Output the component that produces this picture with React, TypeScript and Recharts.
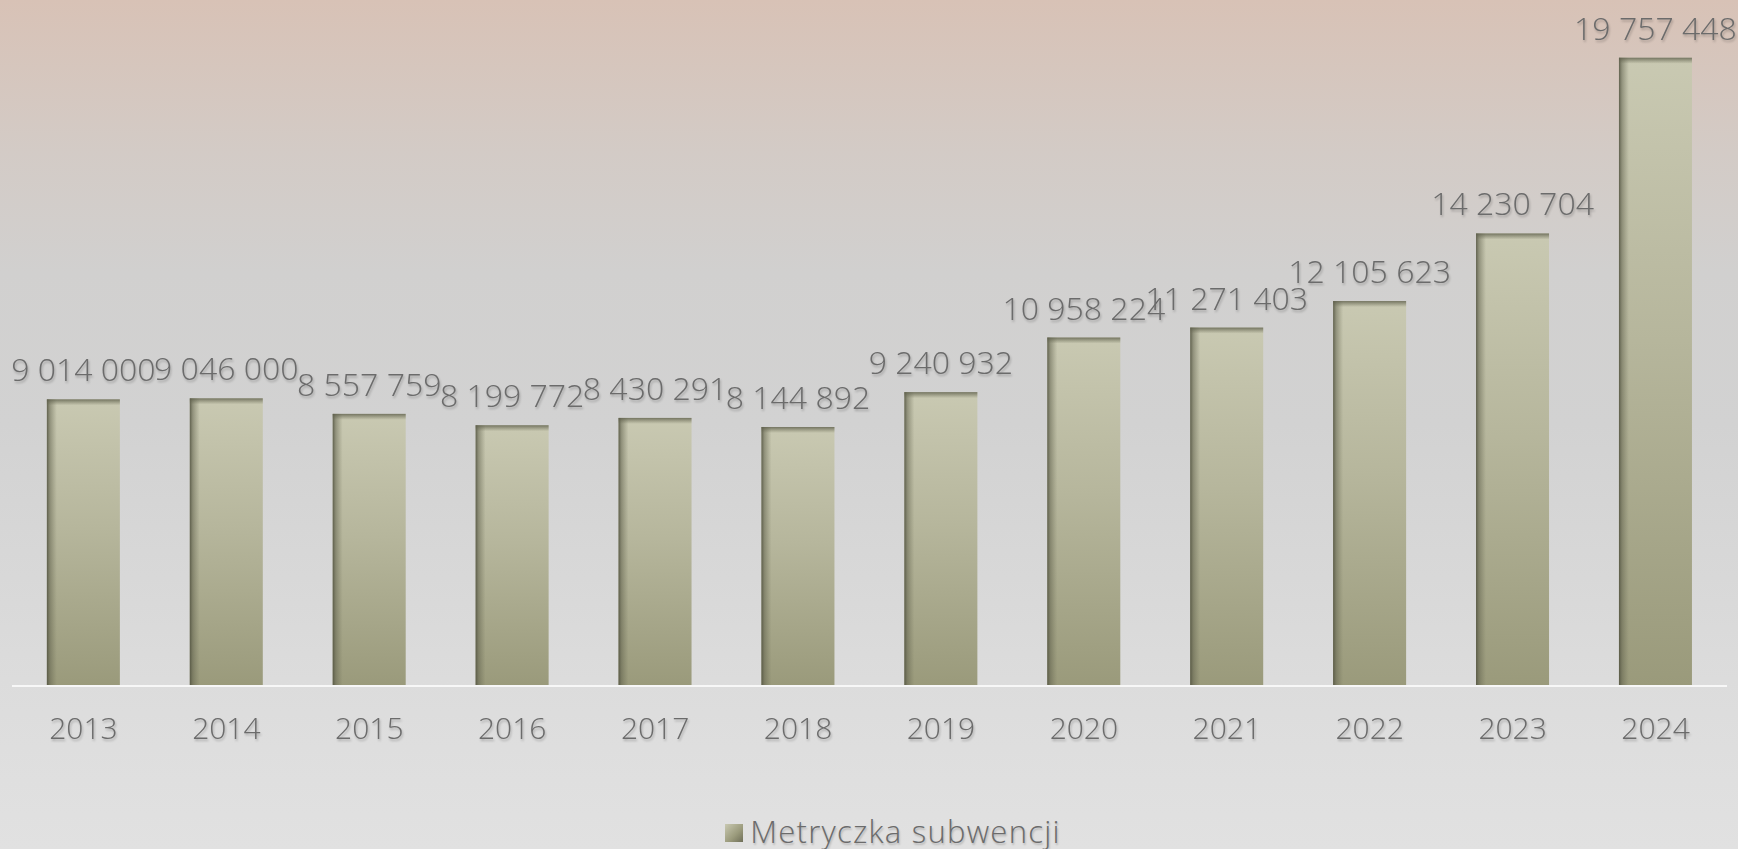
import { BarChart, Bar, XAxis, YAxis, LabelList, Legend } from 'recharts';

const years = ['2013', '2014', '2015', '2016', '2017', '2018', '2019', '2020', '2021', '2022', '2023', '2024'];
const subwencja = [9014000, 9046000, 8557759, 8199772, 8430291, 8144892, 9240932, 10958224, 11271403, 12105623, 14230704, 19757448];
const seriesName = 'Metryczka subwencji';

const data = years.map((year, i) => ({ year, value: subwencja[i] }));

const W = 1738;
const H = 849;
const FONT = '"Open Sans", "DejaVu Sans", sans-serif';
const TEXT = '#6b6b6b';
const WEIGHT = 300;
const SHADOW = 'drop-shadow(1px 2px 1px rgba(0,0,0,0.22))';

const fmt = (v: number) => String(v).replace(/\B(?=(\d{3})+(?!\d))/g, ' ');

// bar with a darker left edge and top edge, like the bevel in the original
const BevelBar = (props: any) => {
  const { x, y, width, height } = props;
  if (!height || height <= 0) return null;
  return (
    <g>
      <rect x={x} y={y} width={width} height={height} fill="url(#barFill)" />
      <rect x={x} y={y} width={Math.min(10, width)} height={height} fill="url(#leftShade)" />
      <rect x={x} y={y} width={width} height={Math.min(6, height)} fill="url(#topShade)" />
    </g>
  );
};

// plain text label so long numbers are not wrapped to the bar width
const ValueLabel = (props: any) => {
  const { x, y, width, value } = props;
  return (
    <text
      x={x + width / 2}
      y={y - 18}
      textAnchor="middle"
      fill={TEXT}
      fontSize={32}
      fontWeight={WEIGHT}
      fontFamily={FONT}
      style={{ filter: SHADOW }}
    >
      {fmt(Number(value))}
    </text>
  );
};

const LegendBox = () => (
  <div style={{ height: 103, display: 'flex', justifyContent: 'center', alignItems: 'flex-start', paddingTop: 68, paddingLeft: 48, boxSizing: 'border-box' }}>
    <div style={{ display: 'flex', alignItems: 'center', gap: 7 }}>
      <div
        style={{
          width: 18,
          height: 18,
          background: 'linear-gradient(135deg, #c9c9b2 0%, #9a9a7b 60%, #6e6e58 100%)',
          marginTop: 4,
        }}
      />
      <span style={{ fontFamily: FONT, fontSize: 31, fontWeight: WEIGHT, lineHeight: '34px', color: TEXT, letterSpacing: 1.25, textShadow: '1px 2px 2px rgba(0,0,0,0.2)' }}>
        {seriesName}
      </span>
    </div>
  </div>
);

export default function App() {
  return (
    <div
      style={{
        position: 'absolute',
        left: 0,
        top: 0,
        width: W,
        height: H,
        background: 'linear-gradient(180deg, #d8c2b6 0%, #d3cbc6 18%, #d1d0cf 32%, #d2d2d2 50%, #dcdcdc 80%, #e1e1e1 100%)',
        fontFamily: FONT,
      }}
    >
      <BarChart width={W} height={H} data={data} margin={{ top: 50, right: 11, left: 12, bottom: 0 }} barCategoryGap="24.4%">
        <defs>
          <linearGradient id="barFill" x1="0" y1="0" x2="0" y2="1">
            <stop offset="0%" stopColor="#c9c9b2" />
            <stop offset="45%" stopColor="#b6b69c" />
            <stop offset="100%" stopColor="#9a9a7b" />
          </linearGradient>
          <linearGradient id="leftShade" x1="0" y1="0" x2="1" y2="0">
            <stop offset="0%" stopColor="#4e4f3d" stopOpacity={0.85} />
            <stop offset="30%" stopColor="#5c5d49" stopOpacity={0.5} />
            <stop offset="100%" stopColor="#6a6b55" stopOpacity={0} />
          </linearGradient>
          <linearGradient id="topShade" x1="0" y1="0" x2="0" y2="1">
            <stop offset="0%" stopColor="#5e5f4c" stopOpacity={0.8} />
            <stop offset="100%" stopColor="#6a6b55" stopOpacity={0} />
          </linearGradient>
        </defs>
        <XAxis
          dataKey="year"
          height={60}
          axisLine={{ stroke: '#f7f7f7', strokeWidth: 2 }}
          tickLine={false}
          tickSize={0}
          tickMargin={32}
          tick={{ fill: TEXT, fontSize: 30, fontWeight: WEIGHT, fontFamily: FONT, style: { filter: SHADOW } }}
          interval={0}
        />
        <YAxis hide domain={[0, 20000000]} />
        <Legend content={<LegendBox />} wrapperStyle={{ left: 0, width: W }} />
        <Bar dataKey="value" name={seriesName} shape={<BevelBar />} isAnimationActive={false}>
          <LabelList dataKey="value" content={<ValueLabel />} />
        </Bar>
      </BarChart>
    </div>
  );
}
